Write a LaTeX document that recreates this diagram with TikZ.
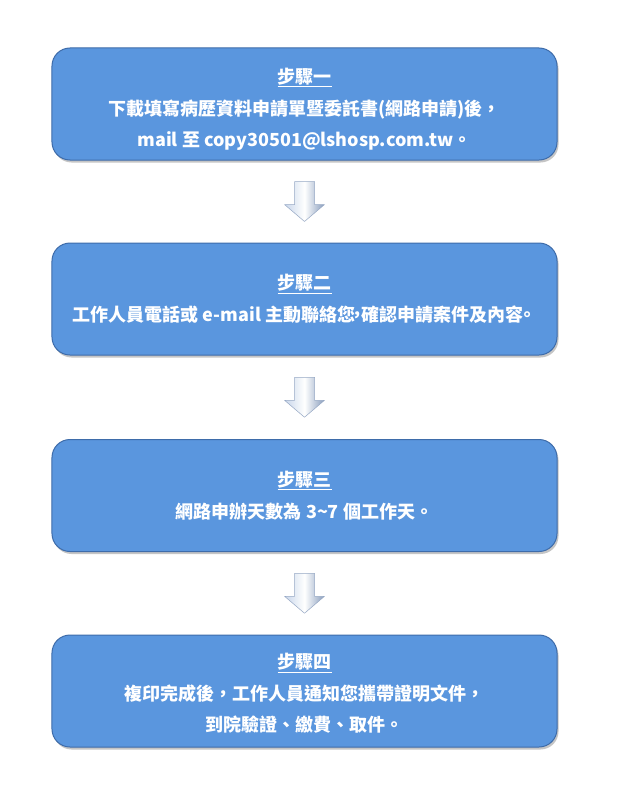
\documentclass[tikz,border=0pt]{standalone}
\usepackage{fontspec}
\newfontfamily\cjk{Noto Sans CJK TC}
\usetikzlibrary{calc,shadows}
\definecolor{boxblue}{RGB}{90,150,222}
\definecolor{boxedge}{RGB}{62,108,170}
\definecolor{arrowmid}{RGB}{200,214,234}
\definecolor{arrowdark}{RGB}{135,155,188}
\definecolor{arrowedge}{RGB}{150,168,196}
\tikzset{
	stepbox/.style={rounded corners=18bp, fill=boxblue, draw=boxedge, line width=1bp,
		minimum width=505bp, minimum height=112bp, text=white, align=center,
		font=\cjk\bfseries\fontsize{18bp}{31.5bp}\selectfont,
		drop shadow={shadow xshift=1.5bp, shadow yshift=-2.5bp, opacity=.45}},
	downarrow/.style={left color=arrowmid, right color=arrowdark, middle color=white,
		draw=arrowedge, line width=.5bp, line join=round}
}

\begin{document}
\begin{tikzpicture}[x=1bp, y=-1bp]
			%%%%% START %%%%%
			
			\useasboundingbox[fill=white] (0, 0) rectangle (620, 800);
			
			\node[stepbox] (box1) at (304.5, 104) {\rule{0pt}{26bp}\underline{步驟一}\\
				下載填寫病歷資料申請單暨委託書(網路申請)後，\\
				mail 至 copy30501@lshosp.com.tw。};
			\node[stepbox] (box2) at (304.5, 299) {\underline{步驟二}\\
				工作人員電話或 e-mail 主動聯絡您\kern-.35em，\kern-.3em確認申請案件及內容\kern-.3em。};
			\node[stepbox] (box3) at (304.5, 495.5) {\underline{步驟三}\\
				網路申辦天數為 3\textasciitilde 7 個工作天。};
			\node[stepbox] (box4) at (304.5, 691) {\rule{0pt}{20bp}\underline{步驟四}\\
				複印完成後，工作人員通知您攜帶證明文件，\\
				到院驗證、繳費、取件。};
			
			\foreach \a/\b in {box1/box2, box2/box3, box3/box4} {
				\coordinate (mid) at ($(\a.south)!0.5!(\b.north)$);
				\shade[downarrow] ($(mid)+(-10, -20)$) -- ($(mid)+(10, -20)$) -- ($(mid)+(10, 3)$)
					-- ($(mid)+(20, 3)$) -- ($(mid)+(0, 20)$) -- ($(mid)+(-20, 3)$)
					-- ($(mid)+(-10, 3)$) -- cycle;
			}
			
			%%%%% END %%%%%
\end{tikzpicture}
\end{document}
